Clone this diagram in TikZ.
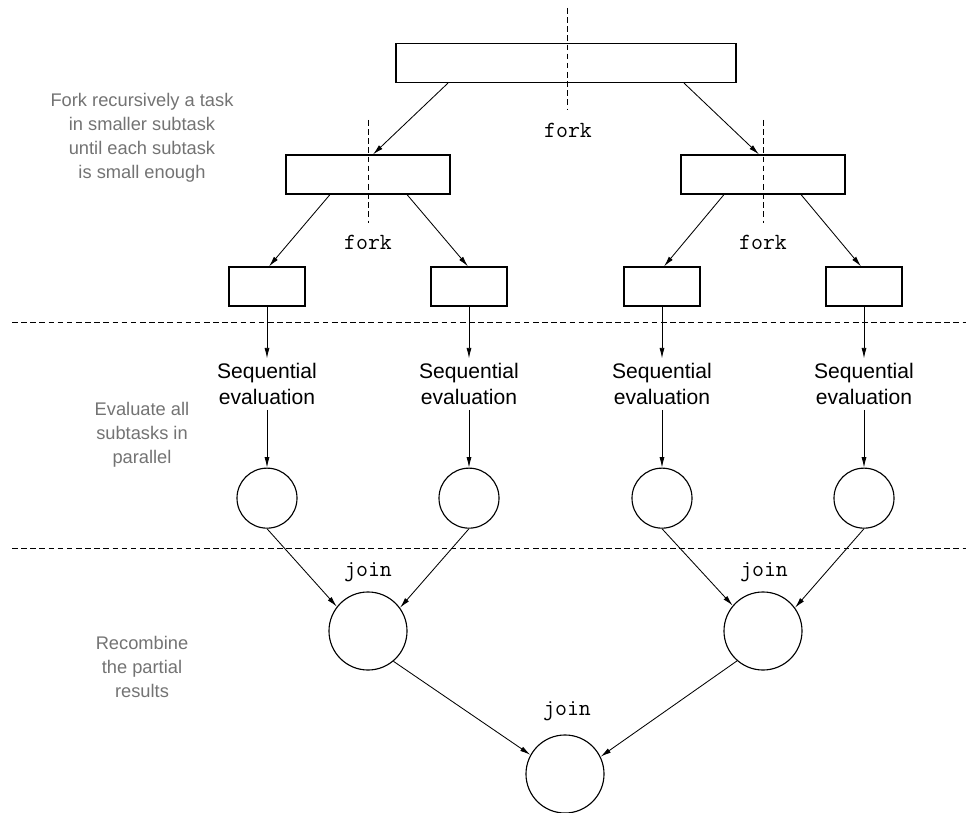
\documentclass[tikz,border=0pt]{standalone}
\usepackage{fontspec}
\setmainfont{Liberation Sans}
\usepackage{tikz}
\usetikzlibrary{arrows.meta, positioning, calc}

\definecolor{notegray}{gray}{0.45}

\tikzset{
  task/.style={draw, rectangle, line width=0.8pt, minimum height=0.975cm, inner sep=0pt},
  result/.style={draw, circle, line width=0.8pt, inner sep=0pt},
  seqtext/.style={align=center, font=\fontsize{15}{18.5}\selectfont},
  optext/.style={font=\fontsize{16.5}{18}\selectfont\ttfamily},
  note/.style={align=center, text=notegray, font=\fontsize{13}{17}\selectfont},
  flow/.style={-{Latex[length=7.5pt,width=3.6pt]}, line width=0.6pt},
  cut/.style={dash pattern=on 4pt off 2.5pt, line width=0.6pt}
}

\begin{document}
\begin{tikzpicture}[x=0.025cm, y=-0.025cm]
    \useasboundingbox (0,0) rectangle (966,813);

    % fork
    \node (top) [task, minimum width=8.5cm] at (566,63) {};
    \node (midL) [task, minimum width=4.1cm] at (368,174.5) {};
    \node (midR) [task, minimum width=4.1cm] at (763,174.5) {};
    \node (s1) [task, minimum width=1.9cm] at (267,286.5) {};
    \node (s2) [task, minimum width=1.9cm] at (469,286.5) {};
    \node (s3) [task, minimum width=1.9cm] at (662,286.5) {};
    \node (s4) [task, minimum width=1.9cm] at (864,286.5) {};

    \node (forkTop) [optext] at (568,130) {fork};
    \node (forkL) [optext] at (368,242) {fork};
    \node (forkR) [optext] at (763,242) {fork};

    \coordinate (cutTopA) at (567,8);  \coordinate (cutTopB) at (567,110);
    \coordinate (cutLA) at (368,120);  \coordinate (cutLB) at (368,223);
    \coordinate (cutRA) at (763,120);  \coordinate (cutRB) at (763,223);
    \draw [cut] (cutTopA) -- (cutTopB);
    \draw [cut] (cutLA) -- (cutLB);
    \draw [cut] (cutRA) -- (cutRB);

    \draw [flow] ($(top.south)+(-118,0)$) -- ($(midL.north)+(5,0)$);
    \draw [flow] ($(top.south)+(118,0)$) -- ($(midR.north)+(-4,0)$);
    \draw [flow] ($(midL.south)+(-38,0)$) -- ($(s1.north)+(2,0)$);
    \draw [flow] ($(midL.south)+(39,0)$) -- ($(s2.north)+(-1,0)$);
    \draw [flow] ($(midR.south)+(-39,0)$) -- ($(s3.north)+(2,0)$);
    \draw [flow] ($(midR.south)+(38,0)$) -- ($(s4.north)+(-3,0)$);

    % evaluate
    \node (seq1) [seqtext, below of=s1, node distance=2.44cm] {Sequential\\evaluation};
    \node (seq2) [seqtext, below of=s2, node distance=2.44cm] {Sequential\\evaluation};
    \node (seq3) [seqtext, below of=s3, node distance=2.44cm] {Sequential\\evaluation};
    \node (seq4) [seqtext, below of=s4, node distance=2.44cm] {Sequential\\evaluation};

    \node (c1) [result, minimum size=1.5cm, below of=seq1, node distance=2.85cm] {};
    \node (c2) [result, minimum size=1.5cm, below of=seq2, node distance=2.85cm] {};
    \node (c3) [result, minimum size=1.5cm, below of=seq3, node distance=2.85cm] {};
    \node (c4) [result, minimum size=1.5cm, below of=seq4, node distance=2.85cm] {};

    \draw [flow] (s1) -- (seq1);
    \draw [flow] (s2) -- (seq2);
    \draw [flow] (s3) -- (seq3);
    \draw [flow] (s4) -- (seq4);
    \draw [flow] (seq1) -- (c1);
    \draw [flow] (seq2) -- (c2);
    \draw [flow] (seq3) -- (c3);
    \draw [flow] (seq4) -- (c4);

    % join
    \node (jL) [result, minimum size=1.95cm] at (368,631) {};
    \node (jR) [result, minimum size=1.95cm] at (763,631) {};
    \node (root) [result, minimum size=1.95cm] at (565,774) {};

    \node (joinL) [optext] at (368,572) {join};
    \node (joinR) [optext] at (764,572) {join};
    \node (joinRoot) [optext] at (567,711) {join};

    \draw [flow] (c1.south) -- (jL.142);
    \draw [flow] (c2.south) -- (jL.36);
    \draw [flow] (c3.south) -- (jR.140);
    \draw [flow] (c4.south) -- (jR.36);
    \draw [flow] (jL.-50) -- (root.151);
    \draw [flow] (jR.-131) -- (root.26);

    % phases
    \coordinate (lineAL) at (12,322);  \coordinate (lineAR) at (966,322);
    \coordinate (lineBL) at (12,548);  \coordinate (lineBR) at (966,548);
    \draw [cut] (lineAL) -- (lineAR);
    \draw [cut] (lineBL) -- (lineBR);

    \node (noteFork) [note] at (142,137.5) {Fork recursively a task\\in smaller subtask\\until each subtask\\is small enough};
    \node (noteEval) [note] at (142,434.5) {Evaluate all\\subtasks in\\parallel};
    \node (noteJoin) [note] at (142,667) {Recombine\\the partial\\results};
\end{tikzpicture}
\end{document}
